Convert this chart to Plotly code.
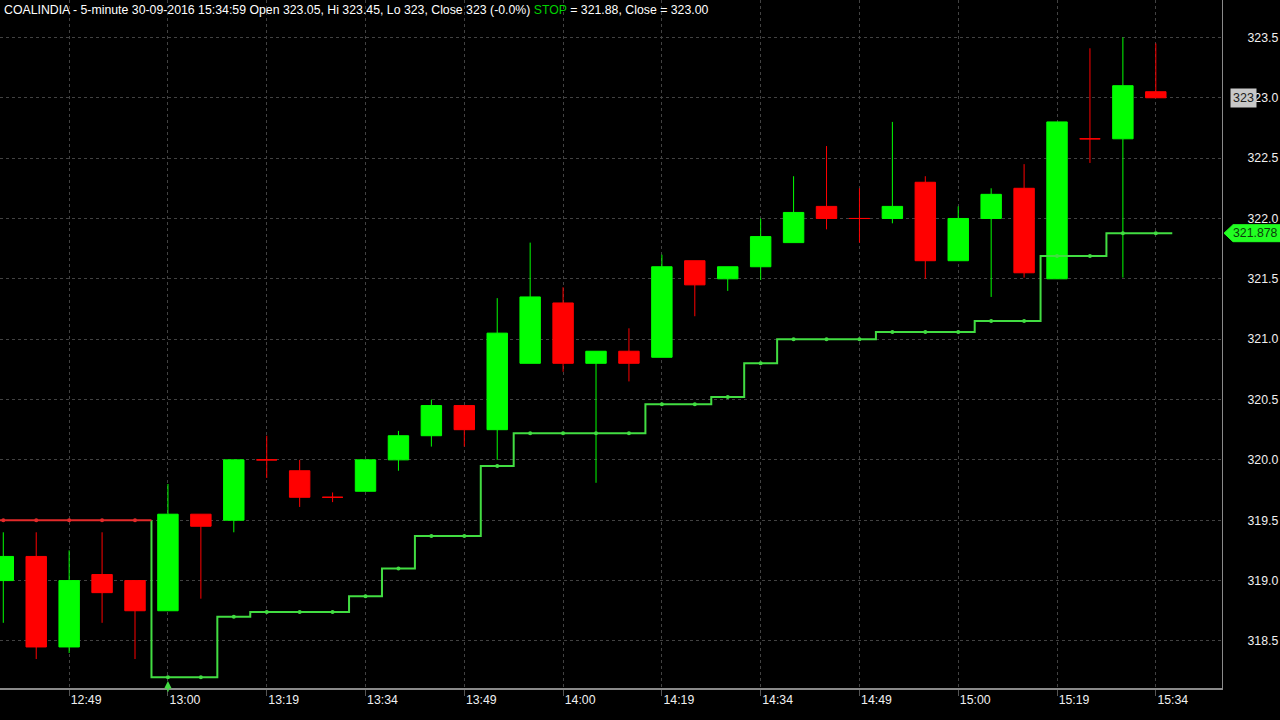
import plotly.graph_objects as go

# ---- data ----
tick_pos = [2, 5, 8, 11, 14, 17, 20, 23, 26, 29, 32, 35]
tick_text = ["12:49", "13:00", "13:19", "13:34", "13:49", "14:00",
             "14:19", "14:34", "14:49", "15:00", "15:19", "15:34"]

opens = [319.0, 319.2, 318.45, 319.05, 319.0, 318.75, 319.55, 319.5, 320.0, 319.91,
         319.69, 319.74, 320.0, 320.2, 320.45, 320.25, 320.8, 321.3, 320.8, 320.9,
         320.85, 321.65, 321.5, 321.6, 321.8, 322.1, 322.0, 322.0, 322.3, 321.65,
         322.0, 322.25, 321.5, 322.66, 322.66, 323.05]
highs = [319.4, 319.4, 319.25, 319.4, 319.0, 319.8, 319.55, 320.0, 320.2, 320.0,
         319.73, 320.0, 320.24, 320.5, 320.45, 321.34, 321.8, 321.43, 320.9, 321.09,
         321.7, 321.65, 321.6, 322.0, 322.35, 322.6, 322.25, 322.8, 322.35, 322.1,
         322.25, 322.45, 322.8, 323.41, 323.5, 323.45]
lows = [318.65, 318.35, 318.4, 318.65, 318.35, 318.75, 318.85, 319.4, 319.85, 319.61,
        319.65, 319.74, 319.91, 320.11, 320.11, 320.0, 320.8, 320.73, 319.81, 320.65,
        320.85, 321.19, 321.4, 321.49, 321.8, 321.91, 321.8, 321.96, 321.5, 321.65,
        321.35, 321.51, 321.5, 322.46, 321.51, 323.0]
closes = [319.2, 318.45, 319.0, 318.9, 318.75, 319.55, 319.45, 320.0, 320.0, 319.69,
          319.69, 320.0, 320.2, 320.45, 320.25, 321.05, 321.35, 320.8, 320.9, 320.8,
          321.6, 321.45, 321.6, 321.85, 322.05, 322.0, 322.0, 322.1, 321.65, 322.0,
          322.2, 321.55, 322.8, 322.66, 323.1, 323.0]

# trailing stop: red (short) phase for bars 0-4, green (long) phase for bars 5-35
stop_red = [319.5, 319.5, 319.5, 319.5, 319.5]
stop_green = [318.2, 318.2, 318.70, 318.74, 318.74, 318.74, 318.87, 319.10, 319.37, 319.37,
              319.95, 320.22, 320.22, 320.22, 320.22, 320.46, 320.46, 320.52, 320.80, 321.0,
              321.0, 321.0, 321.06, 321.06, 321.06, 321.15, 321.15, 321.69, 321.69, 321.878,
              321.878]

title_txt = ("COALINDIA - 5-minute 30-09-2016 15:34:59 Open 323.05, Hi 323.45, Lo 323, "
             "Close 323 (-0.0%) <span style='color:#00d000'>STOP</span> = 321.88, Close = 323.00")

# ---- styles ----
UP = "#00ff00"
DN = "#ff0000"
STOP_G = "#42dd42"
STOP_R = "#e22a2a"
GRID = "#424242"
AXIS = "#8a8a8a"
FONT = "Liberation Sans"

PLOT_W = 1222  # px width of plotting area

n = len(opens)
idx = list(range(n))
red_idx = list(range(len(stop_red)))
green_idx = list(range(len(stop_red), len(stop_red) + len(stop_green)))

fig = go.Figure()

# candles split by colour (doji -> red)
up = [i for i in idx if closes[i] > opens[i]]
dn = [i for i in idx if closes[i] <= opens[i]]
for sel, col in ((up, UP), (dn, DN)):
    fig.add_trace(go.Candlestick(
        x=sel,
        open=[opens[i] for i in sel], high=[highs[i] for i in sel],
        low=[lows[i] for i in sel], close=[closes[i] for i in sel],
        increasing=dict(line=dict(color=col, width=1), fillcolor=col),
        decreasing=dict(line=dict(color=col, width=1), fillcolor=col),
        whiskerwidth=0, showlegend=False, hoverinfo="skip",
    ))


def step_path(xs, ys, start=None):
    px, py = [], []
    if start is not None:
        px.append(xs[0] - 0.5)
        py.append(start)
    for x, y in zip(xs, ys):
        px += [x - 0.5, x + 0.5]
        py += [y, y]
    return px, py


gx, gy = step_path(green_idx, stop_green, start=stop_red[-1])
fig.add_trace(go.Scatter(x=gx, y=gy, mode="lines", line=dict(color=STOP_G, width=2),
                         showlegend=False, hoverinfo="skip"))
fig.add_trace(go.Scatter(x=green_idx, y=stop_green, mode="markers",
                         marker=dict(color=STOP_G, size=4), showlegend=False, hoverinfo="skip"))
rx, ry = step_path(red_idx, stop_red)
fig.add_trace(go.Scatter(x=rx, y=ry, mode="lines", line=dict(color=STOP_R, width=2),
                         showlegend=False, hoverinfo="skip"))
fig.add_trace(go.Scatter(x=red_idx, y=stop_red, mode="markers",
                         marker=dict(color=STOP_R, size=4), showlegend=False, hoverinfo="skip"))

y_ticks = [318.5 + 0.5 * k for k in range(11)]

fig.update_layout(
    width=1280, height=720,
    paper_bgcolor="#000000", plot_bgcolor="#000000",
    margin=dict(l=0, r=1280 - PLOT_W, t=0, b=32),
    font=dict(family=FONT, color="#f0f0f0", size=12),
    boxgap=0.38, boxgroupgap=0,
    showlegend=False,
    xaxis=dict(
        range=[-0.1, 37.01], tickvals=tick_pos, ticktext=tick_text,
        showgrid=True, gridcolor=GRID, griddash="dot", gridwidth=1,
        showline=True, linecolor=AXIS, linewidth=2,
        ticks="outside", ticklen=6, tickcolor="#555555",
        ticklabelshift=17, ticklabelstandoff=-7,
        zeroline=False, rangeslider=dict(visible=False),
        tickfont=dict(family=FONT, size=12.3, color="#f0f0f0"),
    ),
    yaxis=dict(
        side="right", range=[318.11, 323.81], tickvals=y_ticks,
        ticktext=[f"{v:.1f}" for v in y_ticks],
        showgrid=True, gridcolor=GRID, griddash="dot", gridwidth=1,
        showline=True, linecolor=AXIS, linewidth=1,
        ticks="", ticklabelstandoff=22, zeroline=False,
        tickfont=dict(family=FONT, size=12.3, color="#f0f0f0"),
    ),
)

# title line
fig.add_annotation(text=title_txt, xref="paper", yref="paper", x=2 / PLOT_W, y=(688 - 10) / 688,
                   xanchor="left", yanchor="middle", showarrow=False,
                   font=dict(family=FONT, size=12.3, color="#ffffff"))

# last close tag (grey)
fig.add_annotation(text=f"{closes[-1]:g}", xref="paper", yref="y", x=1243 / PLOT_W, y=closes[-1],
                   xanchor="center", yanchor="middle", showarrow=False,
                   bgcolor="#c8c8c8", borderpad=2,
                   font=dict(family=FONT, size=12.5, color="#202020"))

# stop value tag (green arrow-shaped)
sv = stop_green[-1]
hh = 8.5 / 120.67
def px2p(p):
    return p / PLOT_W
fig.add_shape(type="path", xref="paper", yref="y", layer="above",
              path=(f"M {px2p(1224)} {sv} L {px2p(1233)} {sv + hh} L {px2p(1280)} {sv + hh} "
                    f"L {px2p(1280)} {sv - hh} L {px2p(1233)} {sv - hh} Z"),
              fillcolor="#22ff22", line=dict(color="#22ff22", width=1))
fig.add_annotation(text=f"{sv:.3f}", xref="paper", yref="y", x=1255 / PLOT_W, y=sv,
                   xanchor="center", yanchor="middle", showarrow=False,
                   font=dict(family=FONT, size=12.3, color="#0b3d0b"))

# buy-signal arrow under first green-stop bar
fig.add_annotation(x=green_idx[0], y=(688 - 681) / 688, xref="x", yref="paper",
                   text="", showarrow=True, ax=0, ay=12, arrowhead=2, arrowsize=1,
                   arrowwidth=1.5, arrowcolor=STOP_G)

fig.write_html("out.html", config={"displayModeBar": False},
               post_script="document.body.style.margin='0';")
